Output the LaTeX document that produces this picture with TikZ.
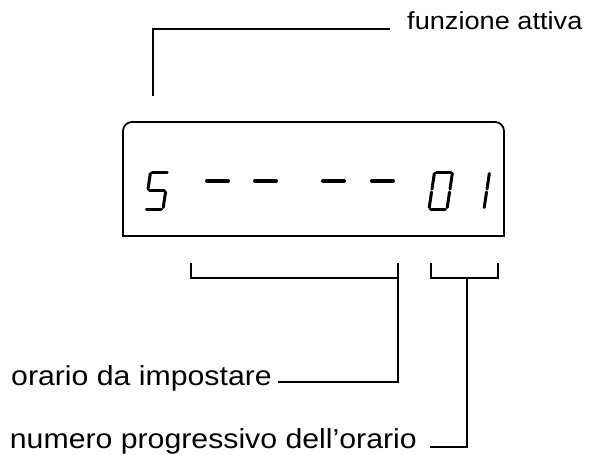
\documentclass[tikz,border=0pt]{standalone}
\usepackage{fontspec}
\setmainfont[FakeStretch=1.1]{Liberation Sans}
\usepackage{tikz}
\usetikzlibrary{positioning}

\newcommand{\lcd}[2]{%
  \begin{scope}[shift={(#1,209)},xslant=0.15,yscale=-1]
    \foreach \s in {#2} \draw[lcdseg,seg \s];
  \end{scope}}

\begin{document}
\begin{tikzpicture}[x=1pt,y=-1pt]
    \tikzset{lbl/.style={font=\fontsize{27.5}{32}\selectfont,inner sep=0pt},
      leader/.style={line width=1.3pt},
      boxline/.style={line width=1.8pt},
      lcdseg/.style={line width=3pt,line cap=round},
      lcddash/.style={line width=4pt,line cap=round},
      seg a/.style={insert path={(1.5,37)--(16.5,37)}},
      seg b/.style={insert path={(18,35.5)--(18,20)}},
      seg c/.style={insert path={(18,17)--(18,1.5)}},
      seg d/.style={insert path={(1.5,0)--(16.5,0)}},
      seg e/.style={insert path={(0,1.5)--(0,17)}},
      seg f/.style={insert path={(0,20)--(0,35.5)}},
      seg g/.style={insert path={(1.5,18.5)--(16.5,18.5)}}}
    \useasboundingbox (0,0) rectangle (590,455);
    \node[lbl,font=\fontsize{24.7}{29}\selectfont,anchor=base west] (fa) at (407,29) {funzione attiva};
    \node[lbl,anchor=base east] (oi) at (272,385) {orario da impostare};
    \node[lbl,anchor=base east] (np) at (417,448) {numero progressivo dell'orario};
    \draw[boxline] (123,236) [rounded corners=9pt] -- (123,122) -- (504,122) [sharp corners] -- (504,236) -- cycle;
    \lcd{145}{a,f,g,c,d}
    \lcd{429}{a,b,c,d,e,f}
    \lcd{466}{b,c}
    \foreach \x in {207,255,323,372}
      \draw[lcddash] (\x,181) -- ++(21,0);
    \coordinate (fa1) at (153,96);
    \coordinate (b1l) at (191,263);
    \coordinate (b1r) at (398,263);
    \coordinate (b2l) at (431,263);
    \coordinate (b2r) at (498,263);
    \coordinate (b2m) at (467,278);
    \draw[leader] ([xshift=-17pt]fa.base west) -| (fa1);
    \draw[leader] (b1l) -- ++(0,15) -| (b1r);
    \draw[leader] (b1r) |- ([xshift=6pt,yshift=3pt]oi.base east);
    \draw[leader] (b2l) -- ++(0,15) -| (b2r);
    \draw[leader] (b2m) |- ([xshift=13pt,yshift=1pt]np.base east);
\end{tikzpicture}
\end{document}
